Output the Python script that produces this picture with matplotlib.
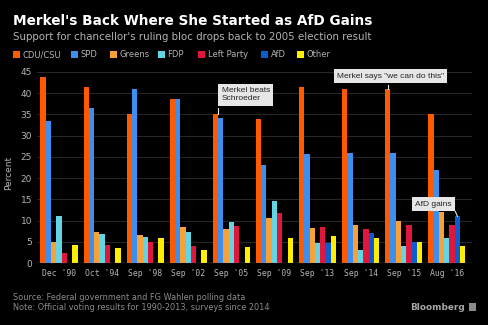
import numpy as np
import matplotlib
matplotlib.use('Agg')
import matplotlib.pyplot as plt
from matplotlib.patches import Rectangle

BG    = '#000000'
GRID  = '#262626'
TEXT  = '#b3b3b3'
WHITE = '#ffffff'
NOTE  = '#e6e6e6'

# election results / polls, percent
dates   = ["Dec '90", "Oct '94", "Sep '98", "Sep '02", "Sep '05",
           "Sep '09", "Sep '13", "Sep '14", "Sep '15", "Aug '16"]
cdu     = [43.8, 41.4, 35.1, 38.5, 35.2, 33.8, 41.5, 41.0, 41.0, 35.0]
spd     = [33.5, 36.4, 40.9, 38.5, 34.2, 23.0, 25.7, 26.0, 26.0, 22.0]
greens  = [5.0, 7.3, 6.7, 8.6, 8.1, 10.7, 8.4, 9.0, 10.0, 12.0]
fdp     = [11.0, 6.9, 6.2, 7.4, 9.8, 14.6, 4.8, 3.0, 4.0, 6.0]
left    = [2.4, 4.4, 5.1, 4.0, 8.7, 11.9, 8.6, 8.0, 9.0, 9.0]
afd     = [np.nan, np.nan, np.nan, np.nan, np.nan, np.nan, 4.7, 7.0, 5.0, 11.0]
other   = [4.2, 3.6, 5.9, 3.0, 3.9, 6.0, 6.3, 6.0, 5.0, 4.0]

parties = ['CDU/CSU', 'SPD', 'Greens', 'FDP', 'Left Party', 'AfD', 'Other']
series  = [cdu, spd, greens, fdp, left, afd, other]
colors  = ['#ff5a00', '#3d8fef', '#f7a136', '#62d4e3', '#e0173d', '#0a5ccf', '#ffee00']

fig = plt.figure(figsize=(4.88, 3.25), dpi=100, facecolor=BG)
ax = fig.add_axes([0.0758, 0.19, 0.891, 0.589])
ax.set_facecolor(BG)

x = np.arange(len(dates))
w = 0.123
for j, (vals, c) in enumerate(zip(series, colors)):
    ax.bar(x + (j - 3) * w, vals, width=w, color=c, linewidth=0, zorder=2)

ax.set_xlim(-0.51, 9.58)
ax.set_ylim(0, 45)
ax.set_yticks(np.arange(0, 46, 5))
ax.grid(axis='y', color=GRID, lw=0.8, zorder=0)
ax.axhline(0, color='#8c8c8c', lw=0.9, zorder=3)
for sp in ax.spines.values():
    sp.set_visible(False)
ax.set_xticks(x)
ax.set_xticklabels(dates, fontfamily='DejaVu Sans Mono', fontsize=5.9)
ax.tick_params(axis='both', length=0, colors=TEXT)
ax.tick_params(axis='y', labelsize=6.5, pad=3.5)
ax.tick_params(axis='x', pad=4)
ax.set_ylabel('Percent', color=TEXT, fontsize=6.5)
ax.yaxis.set_label_coords(-0.055, 0.47)

# annotations: grey box + short pointer down to the bar top
def note(txt, tx, ty, bar_x, bar_y, line_x, box_y):
    ax.text(tx, ty, txt, fontsize=6.0, color='#222222', ha='left', va='center',
            fontfamily='Liberation Sans', linespacing=1.15, zorder=5,
            bbox=dict(boxstyle='square,pad=0.4', facecolor=NOTE, edgecolor='none'))
    ax.plot([line_x, bar_x], [box_y, bar_y], color=NOTE, lw=0.8, zorder=4,
            clip_on=False)

edge05 = 4 - 2.5 * w   # right edge of the 2005 CDU bar
note('Merkel beats\nSchroeder', edge05 + 0.08, 39.6, edge05, cdu[4], edge05, 36.5)
note('Merkel says "we can do this"', 6.45, 44.0, 8 - 3 * w, cdu[8], 8 - 3 * w, 42.0)
note('AfD gains', 8.26, 13.9, 9 + 2 * w, afd[9], 9 + 1.6 * w, 12.2)

# header
fig.text(0.027, 0.935, "Merkel's Back Where She Started as AfD Gains",
         color=WHITE, fontsize=9.8, fontweight='bold', va='center')
fig.text(0.027, 0.886, "Support for chancellor's ruling bloc drops back to 2005 election result",
         color=TEXT, fontsize=7.35, va='center')

# legend row
leg_x = [13, 71, 110, 158, 198, 261, 297]
for lx, name, c in zip(leg_x, parties, colors):
    fig.patches.append(Rectangle((lx / 488, 1 - 58 / 325), 6.5 / 488, 6.5 / 325,
                                 transform=fig.transFigure, facecolor=c,
                                 edgecolor='none'))
    fig.text((lx + 9.5) / 488, 1 - 54.5 / 325, name, color=TEXT, fontsize=6.0,
             va='center')

# footer
fig.text(0.027, 1 - 297 / 325, 'Source: Federal government and FG Wahlen polling data',
         color='#8c8c8c', fontsize=5.9, va='center')
fig.text(0.027, 1 - 308 / 325, 'Note: Official voting results for 1990-2013, surveys since 2014',
         color='#8c8c8c', fontsize=5.9, va='center')
fig.text(465 / 488, 1 - 307 / 325, 'Bloomberg', color='#a6a6a6', fontsize=6.4,
         fontweight='bold', ha='right', va='center')
fig.patches.append(Rectangle((469 / 488, 1 - 311 / 325), 7 / 488, 8 / 325,
                             transform=fig.transFigure, facecolor='#8c8c8c',
                             edgecolor='none'))

fig.savefig('out.png', dpi=100, facecolor=BG)
